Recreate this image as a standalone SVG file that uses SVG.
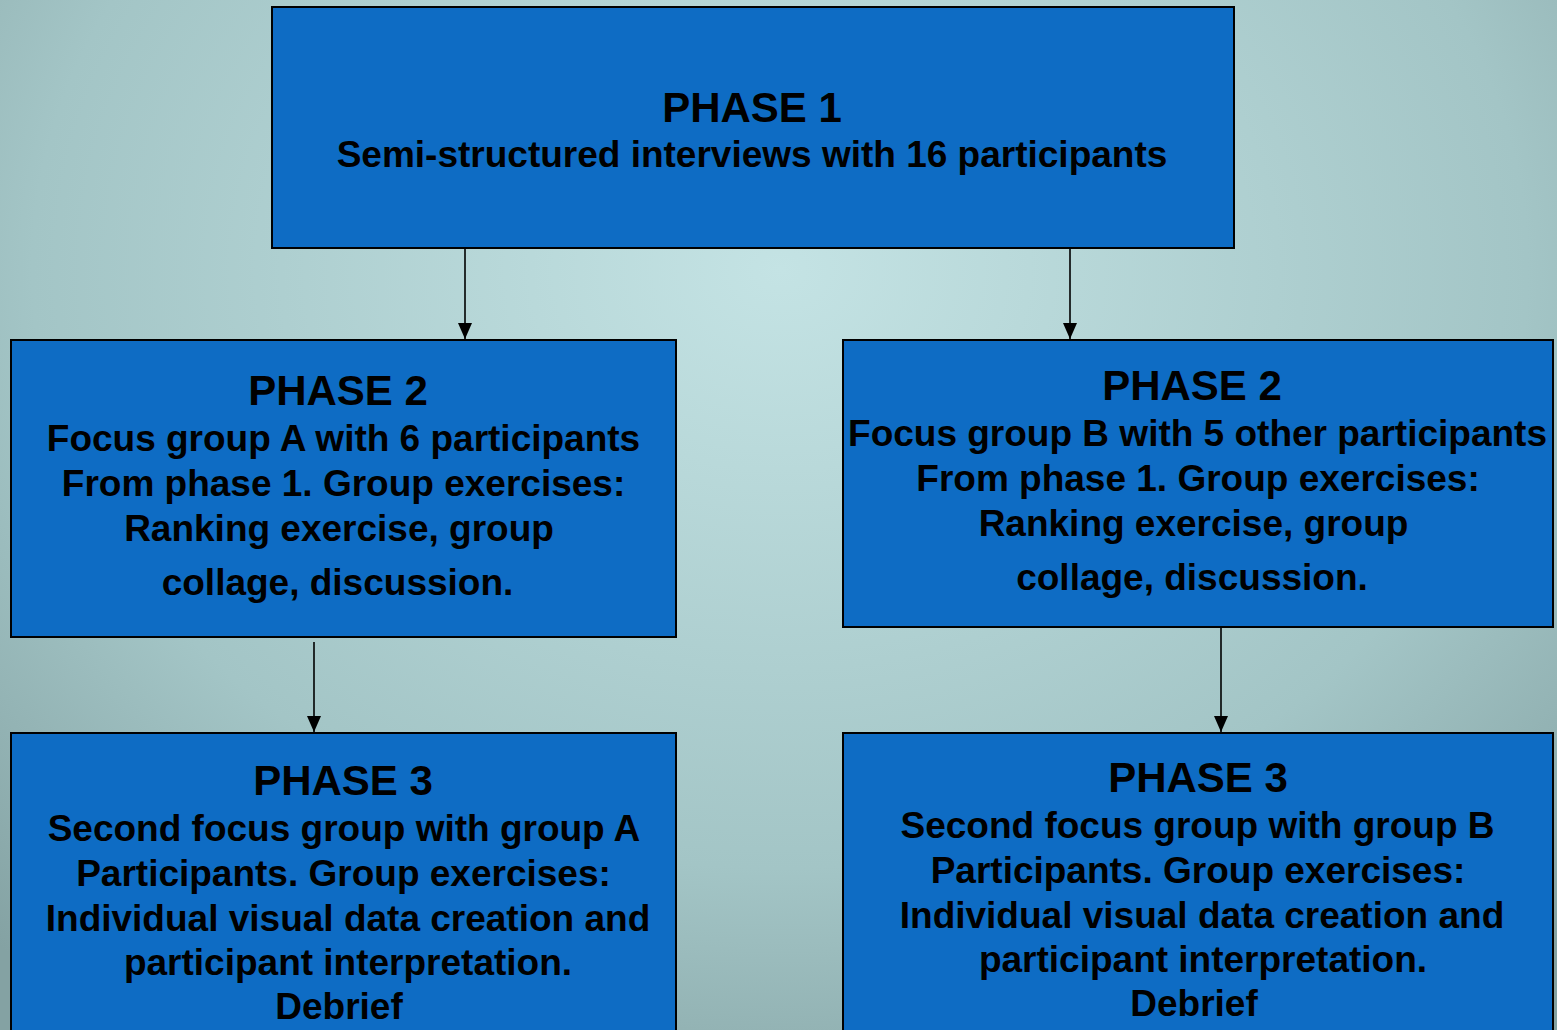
<svg xmlns="http://www.w3.org/2000/svg" width="1557" height="1030" viewBox="0 0 1557 1030">
  <defs>
    <radialGradient id="bg" gradientUnits="userSpaceOnUse" cx="780" cy="270" r="1150" gradientTransform="translate(780 270) scale(1 0.8) translate(-780 -270)">
      <stop offset="0" stop-color="#c4e3e4"/>
      <stop offset="0.65" stop-color="#a3c5c6"/>
      <stop offset="1" stop-color="#84a2a3"/>
    </radialGradient>
    <marker id="arrow" viewBox="0 0 16 14" refX="16" refY="7" markerWidth="16" markerHeight="14" orient="auto" markerUnits="userSpaceOnUse">
      <path d="M0,0 L16,7 L0,14 z" fill="#000"/>
    </marker>
    <style>
      .box { fill: #0e6cc4; stroke: #000; stroke-width: 2; }
      text { font-family: "Liberation Sans", Arial, sans-serif; font-weight: bold; fill: #000; text-anchor: middle; }
      .title { font-size: 42px; }
      .body { font-size: 37px; }
      .conn { stroke: #000; stroke-width: 1.6; fill: none; marker-end: url(#arrow); }
    </style>
  </defs>
  <rect x="0" y="0" width="1557" height="1030" fill="url(#bg)"/>

  <g id="phase1">
    <rect class="box" x="272" y="7" width="962" height="241"/>
    <text class="title" x="752" y="122">PHASE 1</text>
    <text class="body" x="752" y="167">Semi-structured interviews with 16 participants</text>
  </g>

  <g id="phase2a">
    <rect class="box" x="11" y="340" width="665" height="297"/>
    <text class="title" x="338" y="405">PHASE 2</text>
    <text class="body" x="343.5" y="451">Focus group A with 6 participants</text>
    <text class="body" x="343.5" y="496">From phase 1. Group exercises:</text>
    <text class="body" x="339" y="541">Ranking exercise, group</text>
    <text class="body" x="337.5" y="595">collage, discussion.</text>
  </g>

  <g id="phase2b">
    <rect class="box" x="843" y="340" width="710" height="287"/>
    <text class="title" x="1192" y="400">PHASE 2</text>
    <text class="body" x="1197.5" y="446">Focus group B with 5 other participants</text>
    <text class="body" x="1198" y="491">From phase 1. Group exercises:</text>
    <text class="body" x="1193.5" y="536">Ranking exercise, group</text>
    <text class="body" x="1192" y="590">collage, discussion.</text>
  </g>

  <g id="phase3a">
    <rect class="box" x="11" y="733" width="665" height="310"/>
    <text class="title" x="343" y="795">PHASE 3</text>
    <text class="body" x="344" y="841">Second focus group with group A</text>
    <text class="body" x="343.5" y="886">Participants. Group exercises:</text>
    <text class="body" x="348" y="931">Individual visual data creation and</text>
    <text class="body" x="348" y="975">participant interpretation.</text>
    <text class="body" x="339" y="1019">Debrief</text>
  </g>

  <g id="phase3b">
    <rect class="box" x="843" y="733" width="710" height="310"/>
    <text class="title" x="1198" y="792">PHASE 3</text>
    <text class="body" x="1197.5" y="838">Second focus group with group B</text>
    <text class="body" x="1198" y="883">Participants. Group exercises:</text>
    <text class="body" x="1202" y="928">Individual visual data creation and</text>
    <text class="body" x="1203" y="972">participant interpretation.</text>
    <text class="body" x="1194" y="1016">Debrief</text>
  </g>

  <g id="connectors">
    <line class="conn" x1="465" y1="249" x2="465" y2="339"/>
    <line class="conn" x1="1070" y1="249" x2="1070" y2="339"/>
    <line class="conn" x1="314" y1="642" x2="314" y2="732"/>
    <line class="conn" x1="1221" y1="628" x2="1221" y2="732"/>
  </g>
</svg>
